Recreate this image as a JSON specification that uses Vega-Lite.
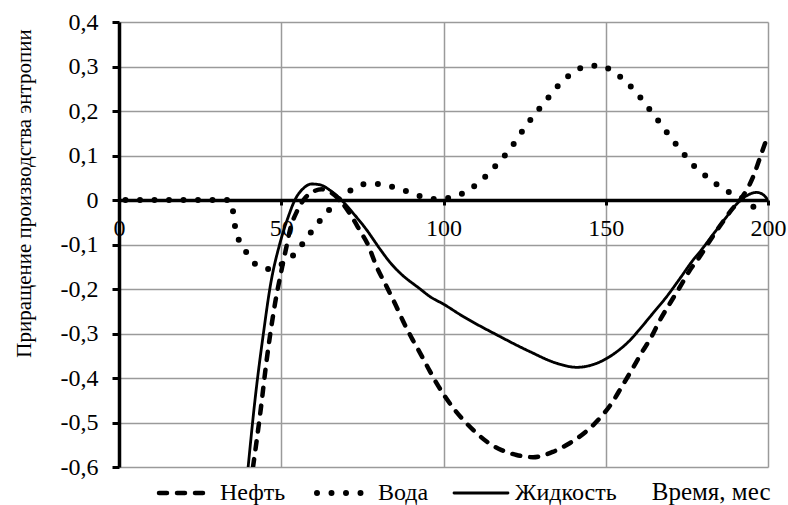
{
  "$schema": "https://vega.github.io/schema/vega-lite/v6.json",
  "width": 649,
  "height": 445,
  "autosize": {"type": "none"},
  "padding": {"left": 119, "top": 22, "right": 20, "bottom": 38},
  "background": "white",
  "config": {
    "font": "Liberation Serif",
    "view": {"stroke": null},
    "axis": {
      "labelFont": "Liberation Serif",
      "labelFontSize": 24,
      "labelColor": "black",
      "titleFont": "Liberation Serif",
      "titleFontWeight": "normal",
      "titleColor": "black",
      "gridColor": "#9a9a9a",
      "gridWidth": 1.5,
      "gridOpacity": 1,
      "domainColor": "black",
      "domainWidth": 3.5,
      "tickColor": "black",
      "tickWidth": 3
    }
  },
  "datasets": {
    "series": [
      {"t": 41.3, "v": -0.6, "s": "Нефть"},
      {"t": 43.4, "v": -0.487, "s": "Нефть"},
      {"t": 45.5, "v": -0.36, "s": "Нефть"},
      {"t": 48.1, "v": -0.232, "s": "Нефть"},
      {"t": 50.1, "v": -0.157, "s": "Нефть"},
      {"t": 51.6, "v": -0.105, "s": "Нефть"},
      {"t": 52.7, "v": -0.067, "s": "Нефть"},
      {"t": 54.8, "v": -0.026, "s": "Нефть"},
      {"t": 57.3, "v": 0.004, "s": "Нефть"},
      {"t": 59.9, "v": 0.019, "s": "Нефть"},
      {"t": 62.5, "v": 0.024, "s": "Нефть"},
      {"t": 65, "v": 0.018, "s": "Нефть"},
      {"t": 68, "v": 0.0, "s": "Нефть"},
      {"t": 71.5, "v": -0.035, "s": "Нефть"},
      {"t": 74.5, "v": -0.072, "s": "Нефть"},
      {"t": 76.5, "v": -0.097, "s": "Нефть"},
      {"t": 79.4, "v": -0.15, "s": "Нефть"},
      {"t": 82.5, "v": -0.195, "s": "Нефть"},
      {"t": 85, "v": -0.232, "s": "Нефть"},
      {"t": 87.6, "v": -0.273, "s": "Нефть"},
      {"t": 90.2, "v": -0.31, "s": "Нефть"},
      {"t": 92.8, "v": -0.344, "s": "Нефть"},
      {"t": 95.3, "v": -0.378, "s": "Нефть"},
      {"t": 97.9, "v": -0.412, "s": "Нефть"},
      {"t": 100.5, "v": -0.442, "s": "Нефть"},
      {"t": 103.5, "v": -0.472, "s": "Нефть"},
      {"t": 106.6, "v": -0.498, "s": "Нефть"},
      {"t": 110.2, "v": -0.524, "s": "Нефть"},
      {"t": 113.7, "v": -0.545, "s": "Нефть"},
      {"t": 117.9, "v": -0.562, "s": "Нефть"},
      {"t": 122.5, "v": -0.573, "s": "Нефть"},
      {"t": 127.6, "v": -0.578, "s": "Нефть"},
      {"t": 133.7, "v": -0.566, "s": "Нефть"},
      {"t": 139, "v": -0.546, "s": "Нефть"},
      {"t": 144, "v": -0.52, "s": "Нефть"},
      {"t": 148.2, "v": -0.49, "s": "Нефть"},
      {"t": 151.8, "v": -0.457, "s": "Нефть"},
      {"t": 154.9, "v": -0.42, "s": "Нефть"},
      {"t": 158, "v": -0.382, "s": "Нефть"},
      {"t": 161, "v": -0.344, "s": "Нефть"},
      {"t": 164.1, "v": -0.307, "s": "Нефть"},
      {"t": 166.7, "v": -0.27, "s": "Нефть"},
      {"t": 169.8, "v": -0.232, "s": "Нефть"},
      {"t": 172.9, "v": -0.195, "s": "Нефть"},
      {"t": 176, "v": -0.157, "s": "Нефть"},
      {"t": 179, "v": -0.127, "s": "Нефть"},
      {"t": 182.5, "v": -0.087, "s": "Нефть"},
      {"t": 186, "v": -0.05, "s": "Нефть"},
      {"t": 189, "v": -0.02, "s": "Нефть"},
      {"t": 191.4, "v": 0.0, "s": "Нефть"},
      {"t": 195.4, "v": 0.052, "s": "Нефть"},
      {"t": 198, "v": 0.105, "s": "Нефть"},
      {"t": 200, "v": 0.146, "s": "Нефть"},

      {"t": 0, "v": 0, "s": "Вода"},
      {"t": 34, "v": 0, "s": "Вода"},
      {"t": 35.2, "v": -0.028, "s": "Вода"},
      {"t": 35.8, "v": -0.061, "s": "Вода"},
      {"t": 37, "v": -0.091, "s": "Вода"},
      {"t": 39.3, "v": -0.118, "s": "Вода"},
      {"t": 42.4, "v": -0.146, "s": "Вода"},
      {"t": 46.3, "v": -0.155, "s": "Вода"},
      {"t": 50, "v": -0.145, "s": "Вода"},
      {"t": 53.7, "v": -0.124, "s": "Вода"},
      {"t": 56.8, "v": -0.096, "s": "Вода"},
      {"t": 59.4, "v": -0.07, "s": "Вода"},
      {"t": 62.1, "v": -0.045, "s": "Вода"},
      {"t": 65, "v": -0.02, "s": "Вода"},
      {"t": 68.1, "v": 0.004, "s": "Вода"},
      {"t": 71.9, "v": 0.024, "s": "Вода"},
      {"t": 76.1, "v": 0.036, "s": "Вода"},
      {"t": 80.6, "v": 0.036, "s": "Вода"},
      {"t": 85, "v": 0.028, "s": "Вода"},
      {"t": 89.4, "v": 0.018, "s": "Вода"},
      {"t": 93.6, "v": 0.007, "s": "Вода"},
      {"t": 98.2, "v": 0.002, "s": "Вода"},
      {"t": 102.5, "v": 0.006, "s": "Вода"},
      {"t": 106.8, "v": 0.018, "s": "Вода"},
      {"t": 110.3, "v": 0.036, "s": "Вода"},
      {"t": 113.7, "v": 0.058, "s": "Вода"},
      {"t": 116.8, "v": 0.083, "s": "Вода"},
      {"t": 119.7, "v": 0.107, "s": "Вода"},
      {"t": 122.3, "v": 0.133, "s": "Вода"},
      {"t": 124.8, "v": 0.16, "s": "Вода"},
      {"t": 127.4, "v": 0.186, "s": "Вода"},
      {"t": 130.4, "v": 0.213, "s": "Вода"},
      {"t": 133.2, "v": 0.238, "s": "Вода"},
      {"t": 136.2, "v": 0.264, "s": "Вода"},
      {"t": 139.7, "v": 0.285, "s": "Вода"},
      {"t": 143.8, "v": 0.3, "s": "Вода"},
      {"t": 148.2, "v": 0.302, "s": "Вода"},
      {"t": 152.3, "v": 0.288, "s": "Вода"},
      {"t": 156, "v": 0.267, "s": "Вода"},
      {"t": 159, "v": 0.245, "s": "Вода"},
      {"t": 161.8, "v": 0.22, "s": "Вода"},
      {"t": 164.6, "v": 0.193, "s": "Вода"},
      {"t": 167.5, "v": 0.166, "s": "Вода"},
      {"t": 170, "v": 0.14, "s": "Вода"},
      {"t": 173, "v": 0.114, "s": "Вода"},
      {"t": 175.7, "v": 0.088, "s": "Вода"},
      {"t": 179, "v": 0.065, "s": "Вода"},
      {"t": 182.5, "v": 0.045, "s": "Вода"},
      {"t": 186, "v": 0.025, "s": "Вода"},
      {"t": 190.2, "v": 0.011, "s": "Вода"},
      {"t": 193.9, "v": -0.004, "s": "Вода"},
      {"t": 197.3, "v": -0.03, "s": "Вода"},

      {"t": 39.8, "v": -0.6, "s": "Жидкость"},
      {"t": 41.9, "v": -0.45, "s": "Жидкость"},
      {"t": 44.5, "v": -0.3, "s": "Жидкость"},
      {"t": 46.7, "v": -0.19, "s": "Жидкость"},
      {"t": 49.6, "v": -0.097, "s": "Жидкость"},
      {"t": 52.2, "v": -0.037, "s": "Жидкость"},
      {"t": 54.2, "v": 0.0, "s": "Жидкость"},
      {"t": 56.8, "v": 0.026, "s": "Жидкость"},
      {"t": 59.4, "v": 0.036, "s": "Жидкость"},
      {"t": 62, "v": 0.034, "s": "Жидкость"},
      {"t": 65, "v": 0.022, "s": "Жидкость"},
      {"t": 68, "v": 0.004, "s": "Жидкость"},
      {"t": 72.2, "v": -0.03, "s": "Жидкость"},
      {"t": 76.3, "v": -0.067, "s": "Жидкость"},
      {"t": 80.4, "v": -0.11, "s": "Жидкость"},
      {"t": 83.5, "v": -0.14, "s": "Жидкость"},
      {"t": 86.6, "v": -0.164, "s": "Жидкость"},
      {"t": 92.8, "v": -0.2, "s": "Жидкость"},
      {"t": 95.8, "v": -0.217, "s": "Жидкость"},
      {"t": 100, "v": -0.234, "s": "Жидкость"},
      {"t": 106.1, "v": -0.262, "s": "Жидкость"},
      {"t": 116.4, "v": -0.303, "s": "Жидкость"},
      {"t": 126.7, "v": -0.341, "s": "Жидкость"},
      {"t": 134.9, "v": -0.367, "s": "Жидкость"},
      {"t": 141.1, "v": -0.376, "s": "Жидкость"},
      {"t": 147.2, "v": -0.367, "s": "Жидкость"},
      {"t": 153.4, "v": -0.341, "s": "Жидкость"},
      {"t": 157.5, "v": -0.315, "s": "Жидкость"},
      {"t": 160.5, "v": -0.29, "s": "Жидкость"},
      {"t": 164.6, "v": -0.254, "s": "Жидкость"},
      {"t": 168.8, "v": -0.217, "s": "Жидкость"},
      {"t": 172.9, "v": -0.176, "s": "Жидкость"},
      {"t": 176.9, "v": -0.135, "s": "Жидкость"},
      {"t": 179.5, "v": -0.112, "s": "Жидкость"},
      {"t": 183, "v": -0.078, "s": "Жидкость"},
      {"t": 187, "v": -0.04, "s": "Жидкость"},
      {"t": 190.5, "v": -0.008, "s": "Жидкость"},
      {"t": 193.5, "v": 0.01, "s": "Жидкость"},
      {"t": 196.5, "v": 0.017, "s": "Жидкость"},
      {"t": 198.5, "v": 0.012, "s": "Жидкость"},
      {"t": 200, "v": 0.0, "s": "Жидкость"}
    ]
  },
  "data": {"name": "series"},
  "encoding": {
    "x": {
      "field": "t",
      "type": "quantitative",
      "scale": {"domain": [0, 200], "nice": false},
      "axis": {
        "values": [0, 50, 100, 150, 200],
        "offset": -267,
        "grid": true,
        "tickSize": 5,
        "labelPadding": 11,
        "labelFlush": false,
        "title": "Время, мес",
        "titleFontSize": 25,
        "titleX": 651,
        "titleY": 299,
        "titleAlign": "right",
        "titleBaseline": "alphabetic"
      }
    },
    "y": {
      "field": "v",
      "type": "quantitative",
      "scale": {"domain": [-0.6, 0.4], "nice": false, "zero": false},
      "axis": {
        "values": [-0.6, -0.5, -0.4, -0.3, -0.2, -0.1, 0, 0.1, 0.2, 0.3, 0.4],
        "grid": true,
        "tickSize": 7,
        "labelPadding": 14,
        "labelExpr": "abs(datum.value) < 1e-9 ? '0' : (datum.value < 0 ? '-' : '') + replace(format(abs(datum.value), '.1f'), '.', ',')",
        "title": "Приращение производства энтропии",
        "titleFontSize": 21,
        "titlePadding": 26,
        "titleY": 171
      }
    },
    "strokeDash": {
      "field": "s",
      "type": "nominal",
      "scale": {
        "domain": ["Нефть", "Вода", "Жидкость"],
        "range": [[8, 10], [0, 14.5], [1, 0]]
      },
      "legend": {
        "title": null,
        "orient": "none",
        "direction": "horizontal",
        "legendX": 55,
        "legendY": 459,
        "symbolType": "stroke",
        "symbolSize": 2916,
        "symbolStrokeColor": "black",
        "symbolStrokeWidth": 4.5,
        "labelFont": "Liberation Serif",
        "labelFontSize": 24,
        "labelColor": "black",
        "labelOffset": 22,
        "columnPadding": 19,
        "encode": {
          "symbols": {
            "update": {
              "strokeCap": {"value": "round"},
              "strokeWidth": {"signal": "datum.value === 'Вода' ? 6 : datum.value === 'Жидкость' ? 2.8 : 4.5"}
            }
          }
        }
      }
    }
  },
  "layer": [
    {
      "transform": [{"filter": "datum.s === 'Нефть'"}],
      "mark": {"type": "line", "interpolate": "monotone", "clip": true, "color": "black", "strokeWidth": 4.5, "strokeCap": "round"}
    },
    {
      "transform": [{"filter": "datum.s === 'Вода'"}],
      "mark": {"type": "line", "interpolate": "monotone", "clip": true, "color": "black", "strokeWidth": 6, "strokeCap": "round", "strokeDashOffset": 8}
    },
    {
      "transform": [{"filter": "datum.s === 'Жидкость'"}],
      "mark": {"type": "line", "interpolate": "monotone", "clip": true, "color": "black", "strokeWidth": 2.8, "strokeCap": "round"}
    }
  ]
}
